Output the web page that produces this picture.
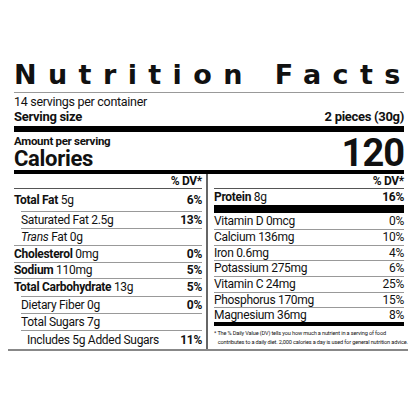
<!DOCTYPE html>
<html><head><meta charset="utf-8">
<script src="https://cdn.jsdelivr.net/npm/chart.js@4"></script>
<style>
body{margin:0;background:#fff;font-family:Roboto,"Liberation Sans",sans-serif;color:#111}
#label{position:absolute;left:8px;top:58px;width:400px;height:291px;border-bottom:2px solid #888}
.abs{position:absolute}
.title{left:6px;top:2px;font-family:"DejaVu Sans";font-weight:900;font-size:27px;letter-spacing:11.4px;line-height:30px;white-space:nowrap}
.row{position:absolute;display:flex;justify-content:space-between;align-items:center;font-size:12px;letter-spacing:-0.3px;box-sizing:border-box;white-space:nowrap}
.b{font-weight:bold}
.bar{position:absolute;background:#000}
.thin{position:absolute;background:#999;height:1px}
</style></head><body>
<div id="label"></div>
<script>
const servingsText = "14 servings per container";
const servingSize = "2 pieces (30g)";
const calories = "120";
const leftNames = ["Total Fat", "Saturated Fat", "Trans", "Cholesterol", "Sodium", "Total Carbohydrate", "Dietary Fiber", "Total Sugars", "Includes 5g Added Sugars"];
const leftAmounts = ["5g", "2.5g", "Fat 0g", "0mg", "110mg", "13g", "0g", "7g", ""];
const leftDV = ["6%", "13%", "", "0%", "5%", "5%", "0%", "", "11%"];
const leftBold = [1, 0, 0, 1, 1, 1, 0, 0, 0];
const leftIndent = [0, 1, 1, 0, 0, 0, 1, 1, 2];
const rightNames = ["Vitamin D", "Calcium", "Iron", "Potassium", "Vitamin C", "Phosphorus", "Magnesium"];
const rightAmounts = ["0mcg", "136mg", "0.6mg", "275mg", "24mg", "170mg", "36mg"];
const rightDV = ["0%", "10%", "4%", "6%", "25%", "15%", "8%"];
const protein = ["Protein", "8g", "16%"];

const L = document.getElementById("label");
function add(cls, css, html) {
  const d = document.createElement("div");
  d.className = cls; d.style.cssText = css; if (html != null) d.innerHTML = html;
  L.appendChild(d); return d;
}
add("abs title", "", "Nutrition Facts");
add("thin", "left:6px;top:34px;width:390px");
add("row", "left:6px;top:36px;width:390px;height:14px;font-size:12.5px", "<span>" + servingsText + "</span>");
add("row b", "left:6px;top:50px;width:390px;height:16px;font-size:13px", "<span>Serving size</span><span>" + servingSize + "</span>");
add("bar", "left:6px;top:68px;width:390px;height:6px");
add("row b", "left:6px;top:76px;width:200px;height:14px;font-size:11.5px", "<span>Amount per serving</span>");
add("abs b", "left:6px;top:90px;font-size:22px;line-height:22px;letter-spacing:-0.3px", "Calories");
add("abs b", "right:4px;top:75px;font-size:38px;line-height:40px;letter-spacing:-1px", calories);
add("bar", "left:6px;top:112px;width:390px;height:4px");
add("bar", "left:198px;top:116px;width:2px;height:175px;background:#666");

// left column
add("row b", "left:6px;top:116px;width:188px;height:14px;justify-content:flex-end", "<span>% DV*</span>");
add("thin", "left:6px;top:130px;width:188px;background:#555");
const lTops = [130, 153, 170, 187, 204, 220, 238, 255, 272, 291];
leftNames.forEach((n, i) => {
  let name = leftBold[i] ? "<b>" + n + "</b>" : n;
  if (n === "Trans") name = "<i>Trans</i>";
  const pad = [0, 7, 13][leftIndent[i]];
  add("row", `left:6px;top:${lTops[i]}px;width:188px;height:${lTops[i + 1] - lTops[i]}px;padding-left:${pad}px`,
    `<span>${name} ${leftAmounts[i]}</span><b>${leftDV[i]}</b>`);
  if (i < leftNames.length - 1) add("thin", `left:${6 + (leftIndent[i + 1] ? 7 : 0)}px;top:${lTops[i + 1]}px;width:${188 - (leftIndent[i + 1] ? 7 : 0)}px`);
});

// right column
add("row b", "left:206px;top:116px;width:190px;height:14px;justify-content:flex-end", "<span>% DV*</span>");
add("thin", "left:206px;top:130px;width:190px;background:#555");
add("row", "left:206px;top:130px;width:190px;height:17px", `<span><b>${protein[0]}</b> ${protein[1]}</span><b>${protein[2]}</b>`);
add("bar", "left:206px;top:147px;width:190px;height:8px");
const rTops = [155, 171, 187, 202, 218, 234, 249, 264];
rightNames.forEach((n, i) => {
  add("row", `left:206px;top:${rTops[i]}px;width:190px;height:${rTops[i + 1] - rTops[i]}px`,
    `<span>${n} ${rightAmounts[i]}</span><span>${rightDV[i]}</span>`);
  if (i < rightNames.length - 1) add("thin", `left:206px;top:${rTops[i + 1]}px;width:190px`);
});
add("bar", "left:206px;top:264px;width:190px;height:4px");
add("abs", "left:206px;top:271px;width:192px;font-size:5.6px;line-height:9px;letter-spacing:-0.15px;white-space:nowrap",
  "* The % Daily Value (DV) tells you how much a nutrient in a serving of food<br>&nbsp;&nbsp;&nbsp;contributes to a daily diet. 2,000 calories a day is used for general nutrition advice.");
</script>
</body></html>
